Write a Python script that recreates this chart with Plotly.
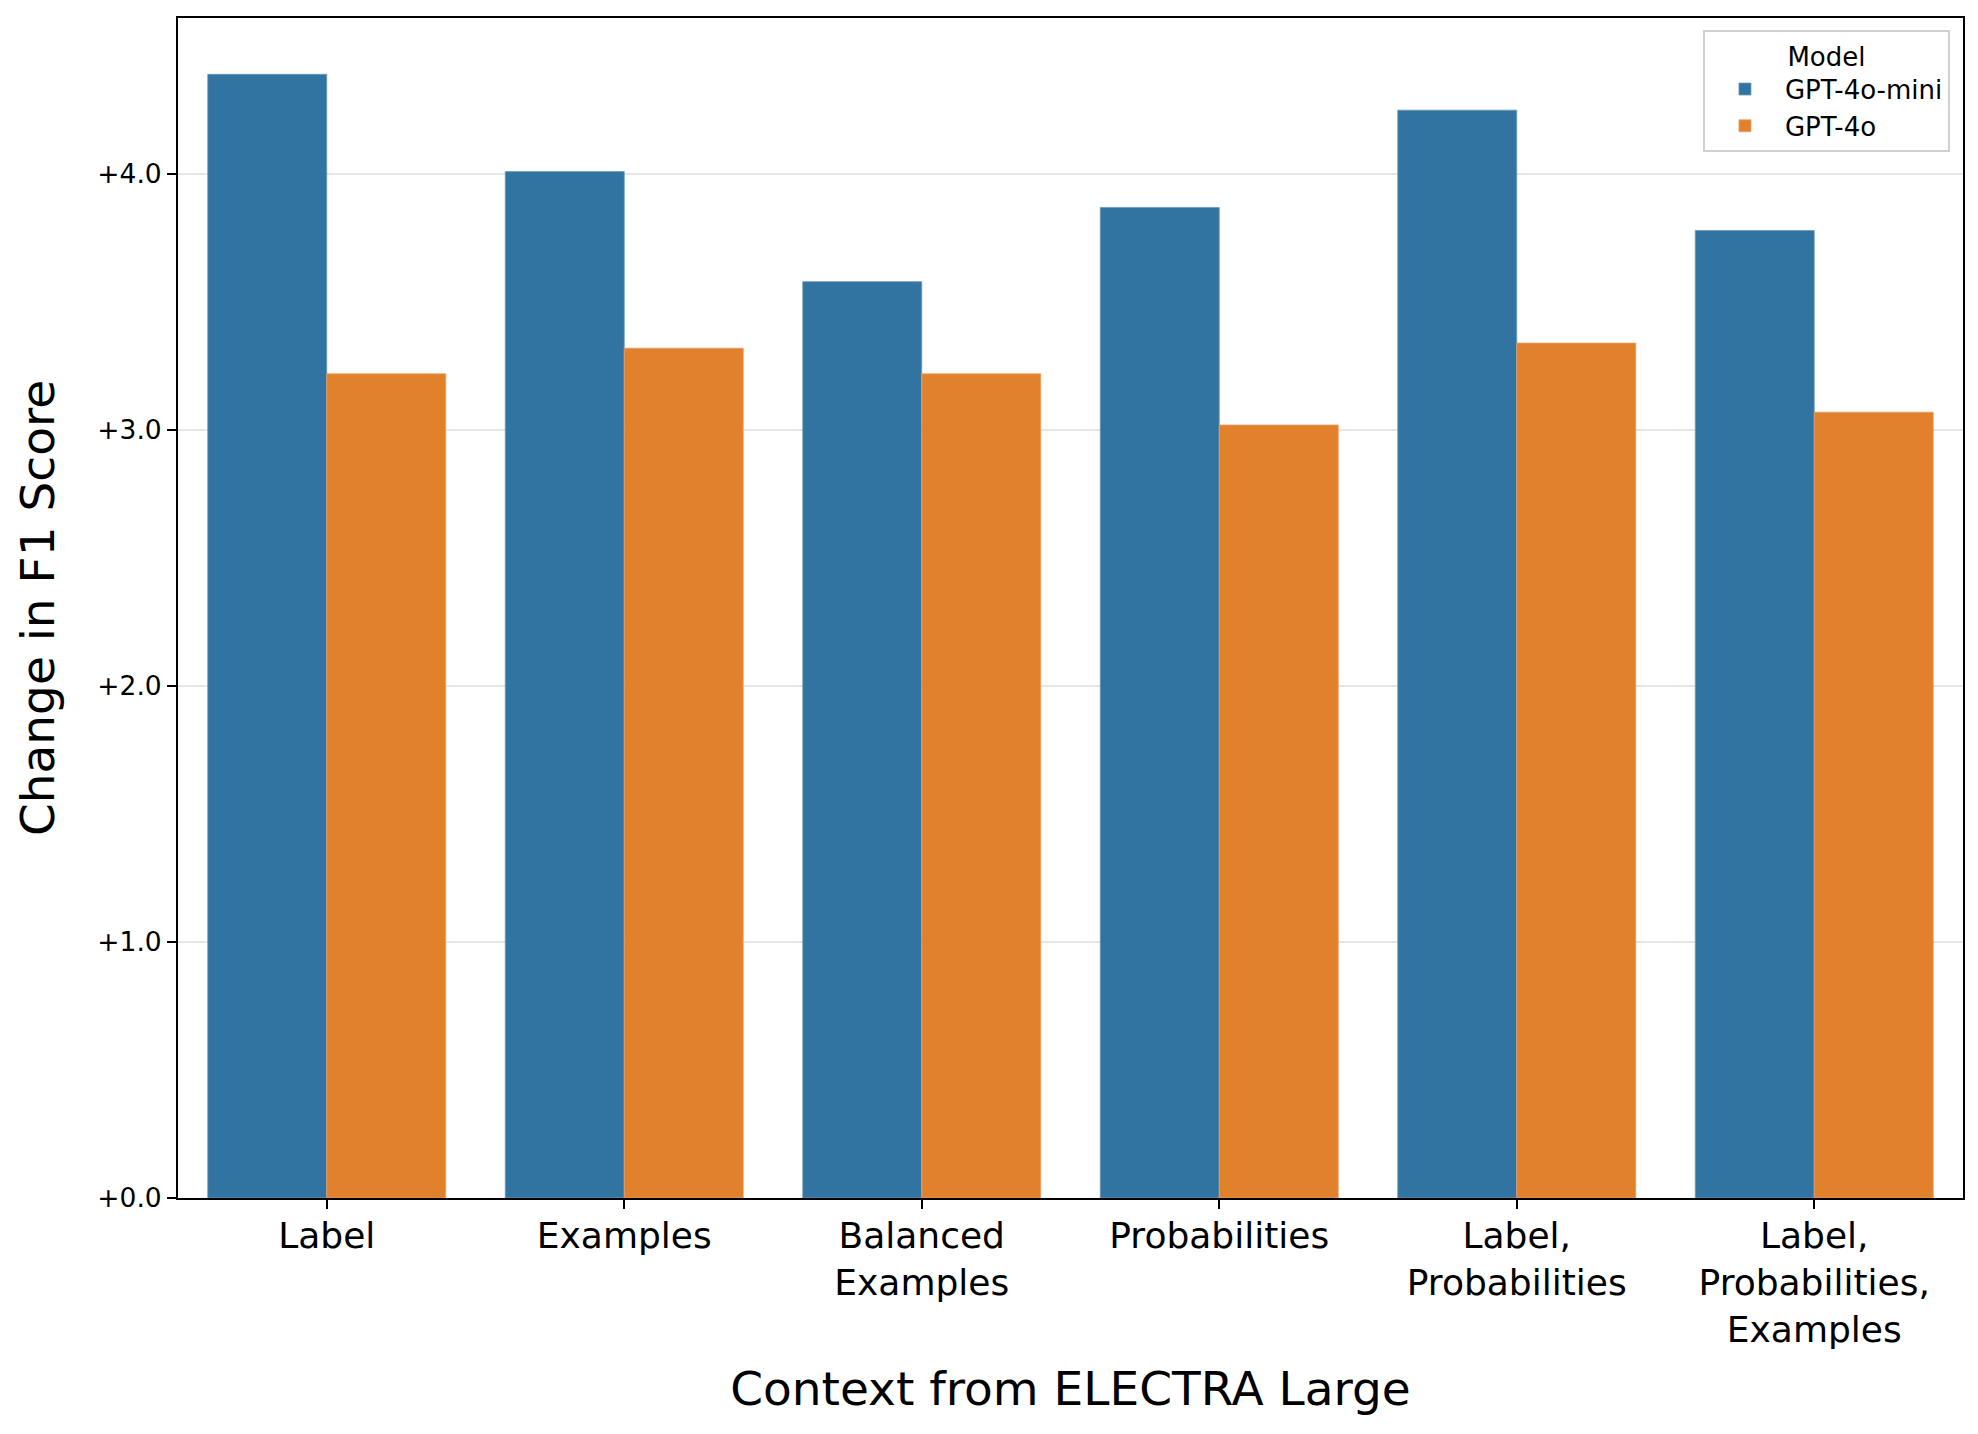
import plotly.graph_objects as go

categories = ["Label", "Examples", "Balanced<br>Examples", "Probabilities",
              "Label,<br>Probabilities", "Label,<br>Probabilities,<br>Examples"]
gpt4o_mini = [4.39, 4.01, 3.58, 3.87, 4.25, 3.78]
gpt4o = [3.22, 3.32, 3.22, 3.02, 3.34, 3.07]
series_names = ["GPT-4o-mini", "GPT-4o"]
y_ticks = [0, 1, 2, 3, 4]
y_tick_labels = ["+0.0", "+1.0", "+2.0", "+3.0", "+4.0"]

FONT = "DejaVu Sans"
x_idx = list(range(len(categories)))

fig = go.Figure()
fig.add_trace(go.Bar(x=x_idx, y=gpt4o_mini, name=series_names[0],
                     marker=dict(color="#3274a1", line=dict(color="#6f97b8", width=0.8))))
fig.add_trace(go.Bar(x=x_idx, y=gpt4o, name=series_names[1],
                     marker=dict(color="#e1812c", line=dict(color="#e8a06a", width=0.8))))

# page body has an 8px margin: compensate so the plot area lands where the reference has it
fig.update_layout(
    width=1970, height=1426,
    margin=dict(l=170, r=15, t=8, b=236),
    paper_bgcolor="white", plot_bgcolor="white",
    barmode="group", bargap=0.2, bargroupgap=0,
    font=dict(family=FONT, color="black"),
    showlegend=True,
    legend=dict(
        title=dict(text="Model", side="top center", font=dict(size=26, family=FONT)),
        font=dict(size=26, family=FONT),
        x=0.9927, xanchor="right", y=0.99, yanchor="top",
        bgcolor="white", bordercolor="#d0d0d0", borderwidth=2,
        itemwidth=70,
    ),
)

fig.update_xaxes(
    range=[-0.5, 5.5],
    tickmode="array", tickvals=x_idx, ticktext=categories,
    tickfont=dict(size=36, family=FONT),
    ticks="outside", ticklen=9, tickwidth=2, tickcolor="black",
    ticklabelstandoff=-4,
    showline=True, linecolor="black", linewidth=2, mirror=True,
    showgrid=False, zeroline=False,
    title=dict(text="Context from ELECTRA Large", font=dict(size=47, family=FONT), standoff=23),
)
fig.update_yaxes(
    range=[0, 4.61],
    tickmode="array", tickvals=y_ticks, ticktext=y_tick_labels,
    tickfont=dict(size=26.5, family=FONT),
    ticks="outside", ticklen=9, tickwidth=2, tickcolor="black",
    showline=True, linecolor="black", linewidth=2, mirror=True,
    showgrid=True, gridcolor="#e6e6e6", gridwidth=2, zeroline=False,
    title=dict(text="Change in F1 Score", font=dict(size=47, family=FONT), standoff=28),
)

fig.write_html("out.html")
